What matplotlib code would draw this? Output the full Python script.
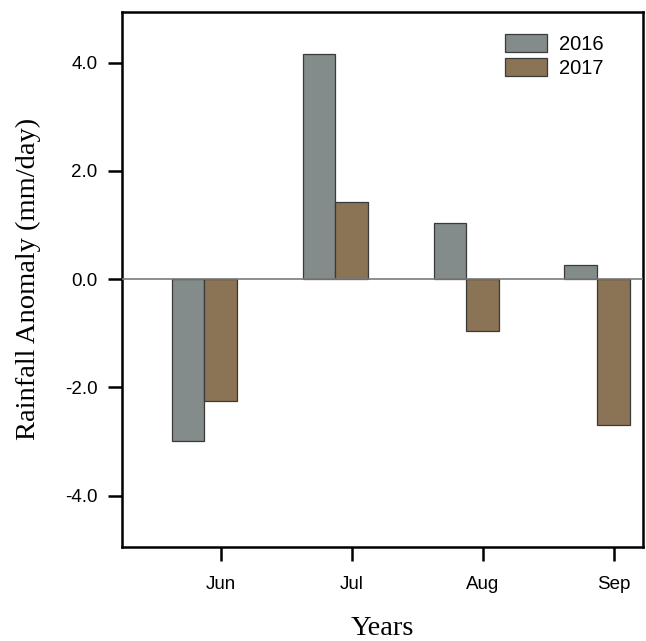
import numpy as np
import matplotlib.pyplot as plt

months = ['Jun', 'Jul', 'Aug', 'Sep']
years = ['2016', '2017']
anom_2016 = [-2.98, 4.15, 1.03, 0.26]
anom_2017 = [-2.25, 1.43, -0.96, -2.70]
colors = ['#838B8B', '#8B7355']  # azure4, burlywood4

yticks = [-4.0, -2.0, 0.0, 2.0, 4.0]

fig = plt.figure(figsize=(6.46, 6.41), dpi=100)
ax = fig.add_axes([122.3 / 646, 1 - 546.7 / 641, (642.7 - 122.3) / 646, (546.7 - 11.7) / 641])

# grouped bars: 2 bars per month, then a gap of 2 bar widths
grp = np.arange(len(months)) * 4
ax.bar(grp + 1.5, anom_2016, width=1.0, color=colors[0], edgecolor='#3a3a3a',
       linewidth=0.9, label=years[0], zorder=2)
ax.bar(grp + 2.5, anom_2017, width=1.0, color=colors[1], edgecolor='#3a3a3a',
       linewidth=0.9, label=years[1], zorder=2)
ax.axhline(0, color='#7a7a7a', linewidth=1.2, zorder=3)

ax.set_xlim(-0.51, 15.39)
ax.set_ylim(-4.94, 4.94)
ax.set_xticks(grp + 2.5)
ax.set_xticklabels(months)
ax.set_yticks(yticks)
ax.set_yticklabels(['%.1f' % v for v in yticks])

tick_font = 'Liberation Sans'
for lab in ax.get_xticklabels() + ax.get_yticklabels():
    lab.set_family(tick_font)
    lab.set_fontsize(13.5)
ax.tick_params(direction='out', length=10, width=1.8)
ax.tick_params(axis='x', pad=11)
ax.tick_params(axis='y', pad=8)
for s in ax.spines.values():
    s.set_linewidth(1.8)

ax.set_ylabel('Rainfall Anomaly (mm/day)', family='Liberation Serif', fontsize=20.5)
ax.set_xlabel('Years', family='Liberation Serif', fontsize=20.5, va='baseline')
ax.yaxis.set_label_coords(-0.156, 0.5)
ax.xaxis.set_label_coords(0.5, -(635 - 546.7) / 535)

leg = ax.legend(loc='upper left', bbox_to_anchor=(505 / 646, 1 - 34 / 641),
                bbox_transform=fig.transFigure, frameon=False, borderpad=0,
                borderaxespad=0, handlelength=2.1, handleheight=1.0,
                handletextpad=0.6, labelspacing=0.2,
                prop={'family': tick_font, 'size': 14.5})
for h in leg.legend_handles:
    h.set_edgecolor('#3a3a3a')

fig.savefig('out.png', dpi=100)
